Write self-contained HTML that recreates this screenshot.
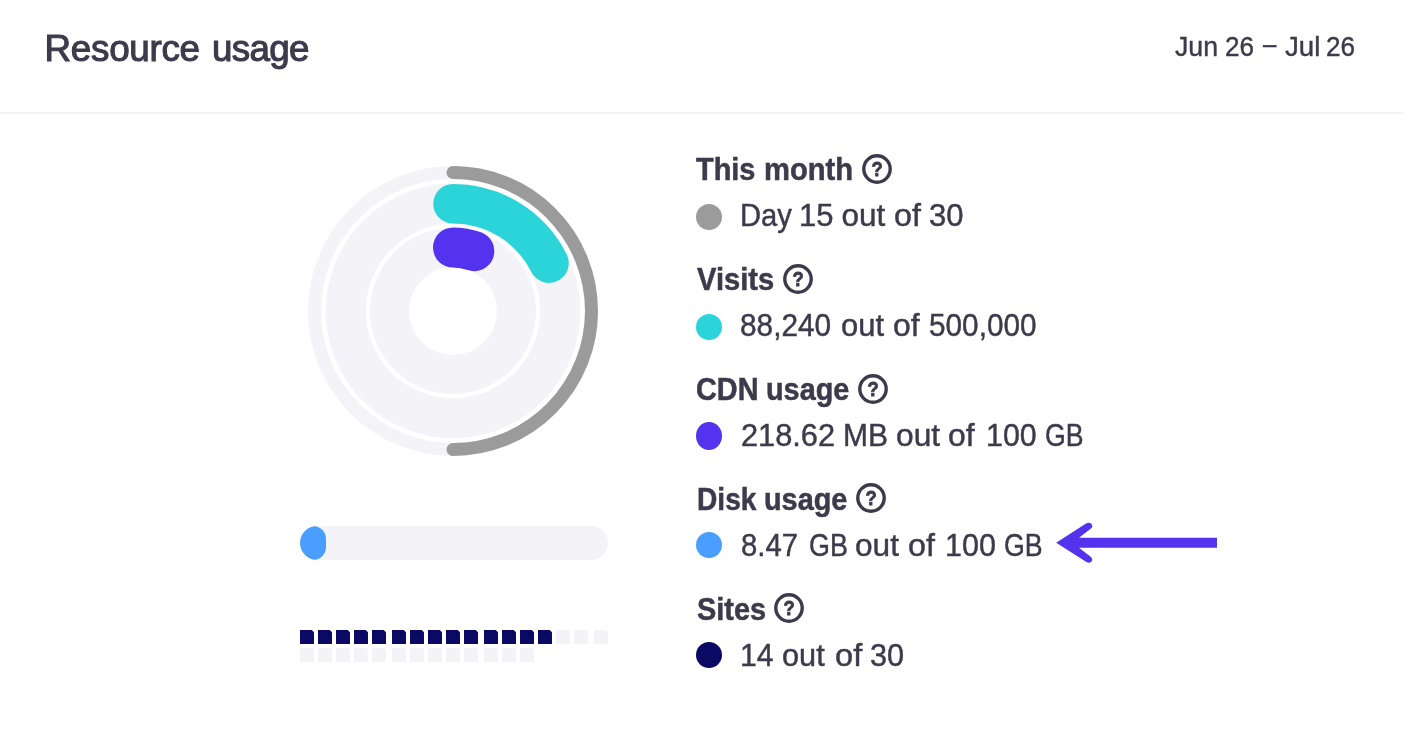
<!DOCTYPE html>
<html><head><meta charset="utf-8"><title>Resource usage</title>
<style>
html,body{margin:0;padding:0;background:#fff;}
body{width:1404px;height:730px;position:relative;overflow:hidden;font-family:"Liberation Sans",sans-serif;color:#3c3a4b;}
.abs{position:absolute}
#title{position:absolute;left:0;top:26.5px;font-size:36.8px;line-height:44px;white-space:nowrap;-webkit-text-stroke:1.1px #3c3a4b;}
#title span{position:absolute;top:0;}
#tw0{left:44.6px;letter-spacing:-0.3px;}
#tw1{left:212px;letter-spacing:-0.72px;}
#date{position:absolute;left:0;top:31px;font-size:27px;line-height:32px;white-space:nowrap;-webkit-text-stroke:0.4px #3c3a4b;}
#hr{position:absolute;left:0;top:112px;width:1404px;height:2px;background:#f3f3f8;}
#chart{position:absolute;left:0;top:0;}
#bar{position:absolute;left:300px;top:526px;width:308px;height:34px;border-radius:17px;background:#f3f3f8;overflow:hidden;}
#bar div{width:26px;height:34px;border-radius:17px;background:#4a9eff;}
.sq{position:absolute;width:14px;height:14px;background:#f3f3f8;clip-path:polygon(0 0,calc(100% - 2.2px) 0,100% 2.2px,100% 100%,0 100%);}
.sq.on{background:#0a0a64;}
.lab{position:absolute;left:0;font-weight:bold;font-size:30.7px;line-height:46px;white-space:nowrap;-webkit-text-stroke:0.5px #3c3a4b;}
.val{position:absolute;left:0;font-size:31.5px;line-height:46px;white-space:nowrap;-webkit-text-stroke:0.45px #3c3a4b;}
.val span,.lab span,#date span{position:absolute;top:0;display:inline-block;transform-origin:0 50%;white-space:nowrap;}
.dot{position:absolute;left:696px;width:26px;height:26px;border-radius:50%;}
.q{position:absolute;}
#arrow{position:absolute;left:0;top:0;}
</style></head><body>
<div id="title"><span id="tw0">Resource</span> <span id="tw1">usage</span></div>
<div id="date"><span style="left:1175.2px;transform:scaleX(0.9882)">Jun</span> <span style="left:1224.8px;transform:scaleX(0.9682)">26</span> <span style="left:1262.6px;transform:translateY(-3px) scaleX(0.8899)">–</span> <span style="left:1285.4px;transform:scaleX(1.0245)">Jul</span> <span style="left:1326.2px;transform:scaleX(0.9682)">26</span></div>
<div id="hr"></div>
<svg id="chart" width="700" height="500" viewBox="0 0 700 500">
<circle cx="453" cy="311" r="138.5" fill="none" stroke="#f3f3f8" stroke-width="13"/>
<circle cx="453" cy="311" r="107.25" fill="none" stroke="#f3f3f8" stroke-width="40"/>
<circle cx="453" cy="311" r="63.5" fill="none" stroke="#f3f3f8" stroke-width="39"/>
<path d="M453.00 172.50 A138.5 138.5 0 0 1 453.00 449.50" fill="none" stroke="#9b9b9b" stroke-width="13" stroke-linecap="round"/>
<path d="M453.00 203.75 A107.25 107.25 0 0 1 548.98 263.15" fill="none" stroke="#2bd4d9" stroke-width="39.5" stroke-linecap="round"/>
<path d="M453.00 247.50 A63.5 63.5 0 0 1 474.30 251.18" fill="none" stroke="#5333ed" stroke-width="40" stroke-linecap="round"/>
</svg>
<div id="bar"><div></div></div>
<div class="sq on" style="left:300px;top:630px"></div><div class="sq on" style="left:318px;top:630px"></div><div class="sq on" style="left:336px;top:630px"></div><div class="sq on" style="left:354px;top:630px"></div><div class="sq on" style="left:372px;top:630px"></div><div class="sq on" style="left:392px;top:630px"></div><div class="sq on" style="left:410px;top:630px"></div><div class="sq on" style="left:428px;top:630px"></div><div class="sq on" style="left:446px;top:630px"></div><div class="sq on" style="left:464px;top:630px"></div><div class="sq on" style="left:484px;top:630px"></div><div class="sq on" style="left:502px;top:630px"></div><div class="sq on" style="left:520px;top:630px"></div><div class="sq on" style="left:538px;top:630px"></div><div class="sq" style="left:556px;top:630px"></div><div class="sq" style="left:574px;top:630px"></div><div class="sq" style="left:594px;top:630px"></div><div class="sq" style="left:300px;top:648px"></div><div class="sq" style="left:318px;top:648px"></div><div class="sq" style="left:336px;top:648px"></div><div class="sq" style="left:354px;top:648px"></div><div class="sq" style="left:372px;top:648px"></div><div class="sq" style="left:392px;top:648px"></div><div class="sq" style="left:410px;top:648px"></div><div class="sq" style="left:428px;top:648px"></div><div class="sq" style="left:446px;top:648px"></div><div class="sq" style="left:464px;top:648px"></div><div class="sq" style="left:484px;top:648px"></div><div class="sq" style="left:502px;top:648px"></div><div class="sq" style="left:520px;top:648px"></div>

<div class="lab" id="lab0" style="top:146.5px"><span style="left:696.2px;transform:scaleX(0.942)">This</span> <span style="left:764.0px;transform:scaleX(0.9505)">month</span></div>
<svg class="q" style="left:860.85px;top:152.85px" width="32" height="32" viewBox="0 0 32 32"><circle cx="16" cy="16" r="13.2" fill="none" stroke="#3c3a4b" stroke-width="3.4"/><text transform="translate(16.15 22.8) scale(0.88 1)" x="0" y="0" text-anchor="middle" font-family="Liberation Sans, sans-serif" font-weight="bold" font-size="21" fill="#3c3a4b" stroke="#3c3a4b" stroke-width="0.8">?</text></svg>
<div class="dot" style="top:203.9px;height:26px;background:#9b9b9b"></div>
<div class="val" id="val0" style="top:191.5px"><span style="left:739.8px;transform:scaleX(0.9259)">Day</span> <span style="left:798.8px;transform:scaleX(0.9846)">15</span> <span style="left:841.4px;transform:scaleX(1.0)">out</span> <span style="left:893.8px;transform:scaleX(1.0233)">of</span> <span style="left:929.2px;transform:scaleX(0.9851)">30</span></div>
<div class="lab" id="lab1" style="top:256.5px"><span style="left:697.2px;transform:scaleX(0.9494)">Visits</span></div>
<svg class="q" style="left:782.00px;top:262.70px" width="32" height="32" viewBox="0 0 32 32"><circle cx="16" cy="16" r="13.2" fill="none" stroke="#3c3a4b" stroke-width="3.4"/><text transform="translate(16.15 22.8) scale(0.88 1)" x="0" y="0" text-anchor="middle" font-family="Liberation Sans, sans-serif" font-weight="bold" font-size="21" fill="#3c3a4b" stroke="#3c3a4b" stroke-width="0.8">?</text></svg>
<div class="dot" style="top:313.9px;height:26px;background:#2bd4d9"></div>
<div class="val" id="val1" style="top:301.5px"><span style="left:740.2px;transform:scaleX(0.9458)">88,240</span> <span style="left:840.6px;transform:scaleX(0.9826)">out</span> <span style="left:893.4px;transform:scaleX(1.0116)">of</span> <span style="left:929.4px;transform:scaleX(0.9444)">500,000</span></div>
<div class="lab" id="lab2" style="top:366.5px"><span style="left:696.0px;transform:scaleX(0.9392)">CDN</span> <span style="left:766.2px;transform:scaleX(0.9397)">usage</span></div>
<svg class="q" style="left:857.00px;top:373.10px" width="32" height="32" viewBox="0 0 32 32"><circle cx="16" cy="16" r="13.2" fill="none" stroke="#3c3a4b" stroke-width="3.4"/><text transform="translate(16.15 22.8) scale(0.88 1)" x="0" y="0" text-anchor="middle" font-family="Liberation Sans, sans-serif" font-weight="bold" font-size="21" fill="#3c3a4b" stroke="#3c3a4b" stroke-width="0.8">?</text></svg>
<div class="dot" style="top:421.9px;height:28px;background:#5333ed"></div>
<div class="val" id="val2" style="top:411.5px"><span style="left:740.6px;transform:scaleX(0.9755)">218.62</span> <span style="left:842.8px;transform:scaleX(0.9525)">MB</span> <span style="left:896.0px;transform:scaleX(1.0069)">out</span> <span style="left:948.4px;transform:scaleX(1.0116)">of</span> <span style="left:985.6px;transform:scaleX(0.9642)">100</span> <span style="left:1044.8px;transform:scaleX(0.8466)">GB</span></div>
<div class="lab" id="lab3" style="top:476.5px"><span style="left:696.6px;transform:scaleX(0.9171)">Disk</span> <span style="left:764.2px;transform:scaleX(0.9402)">usage</span></div>
<svg class="q" style="left:855.00px;top:481.90px" width="32" height="32" viewBox="0 0 32 32"><circle cx="16" cy="16" r="13.2" fill="none" stroke="#3c3a4b" stroke-width="3.4"/><text transform="translate(16.15 22.8) scale(0.88 1)" x="0" y="0" text-anchor="middle" font-family="Liberation Sans, sans-serif" font-weight="bold" font-size="21" fill="#3c3a4b" stroke="#3c3a4b" stroke-width="0.8">?</text></svg>
<div class="dot" style="top:531.9px;height:26px;background:#4a9eff"></div>
<div class="val" id="val3" style="top:521.5px"><span style="left:740.6px;transform:scaleX(0.9285)">8.47</span> <span style="left:808.8px;transform:scaleX(0.8535)">GB</span> <span style="left:855.4px;transform:scaleX(1.0025)">out</span> <span style="left:908.4px;transform:scaleX(1.0233)">of</span> <span style="left:945.0px;transform:scaleX(0.9682)">100</span> <span style="left:1003.6px;transform:scaleX(0.8489)">GB</span></div>
<div class="lab" id="lab4" style="top:586.5px"><span style="left:697.0px;transform:scaleX(0.9425)">Sites</span></div>
<svg class="q" style="left:773.05px;top:591.90px" width="32" height="32" viewBox="0 0 32 32"><circle cx="16" cy="16" r="13.2" fill="none" stroke="#3c3a4b" stroke-width="3.4"/><text transform="translate(16.15 22.8) scale(0.88 1)" x="0" y="0" text-anchor="middle" font-family="Liberation Sans, sans-serif" font-weight="bold" font-size="21" fill="#3c3a4b" stroke="#3c3a4b" stroke-width="0.8">?</text></svg>
<div class="dot" style="top:641.9px;height:26px;background:#0a0a64"></div>
<div class="val" id="val4" style="top:631.5px"><span style="left:740.0px;transform:scaleX(0.9547)">14</span> <span style="left:782.2px;transform:scaleX(0.9746)">out</span> <span style="left:834.8px;transform:scaleX(1.035)">of</span> <span style="left:870.0px;transform:scaleX(0.9739)">30</span></div>
<svg id="arrow" width="1404" height="730" viewBox="0 0 1404 730"><path d="M1056.2 542.7 L1086 523.6 Q1090 521.5 1092 524.5 Q1093 526.5 1091 528.5 L1079 537.7 H1217 V547.7 H1079 L1091 557 Q1093 559 1092 561 Q1090 564 1086 561.8 Z" fill="#5333ed"/></svg>
</body></html>
